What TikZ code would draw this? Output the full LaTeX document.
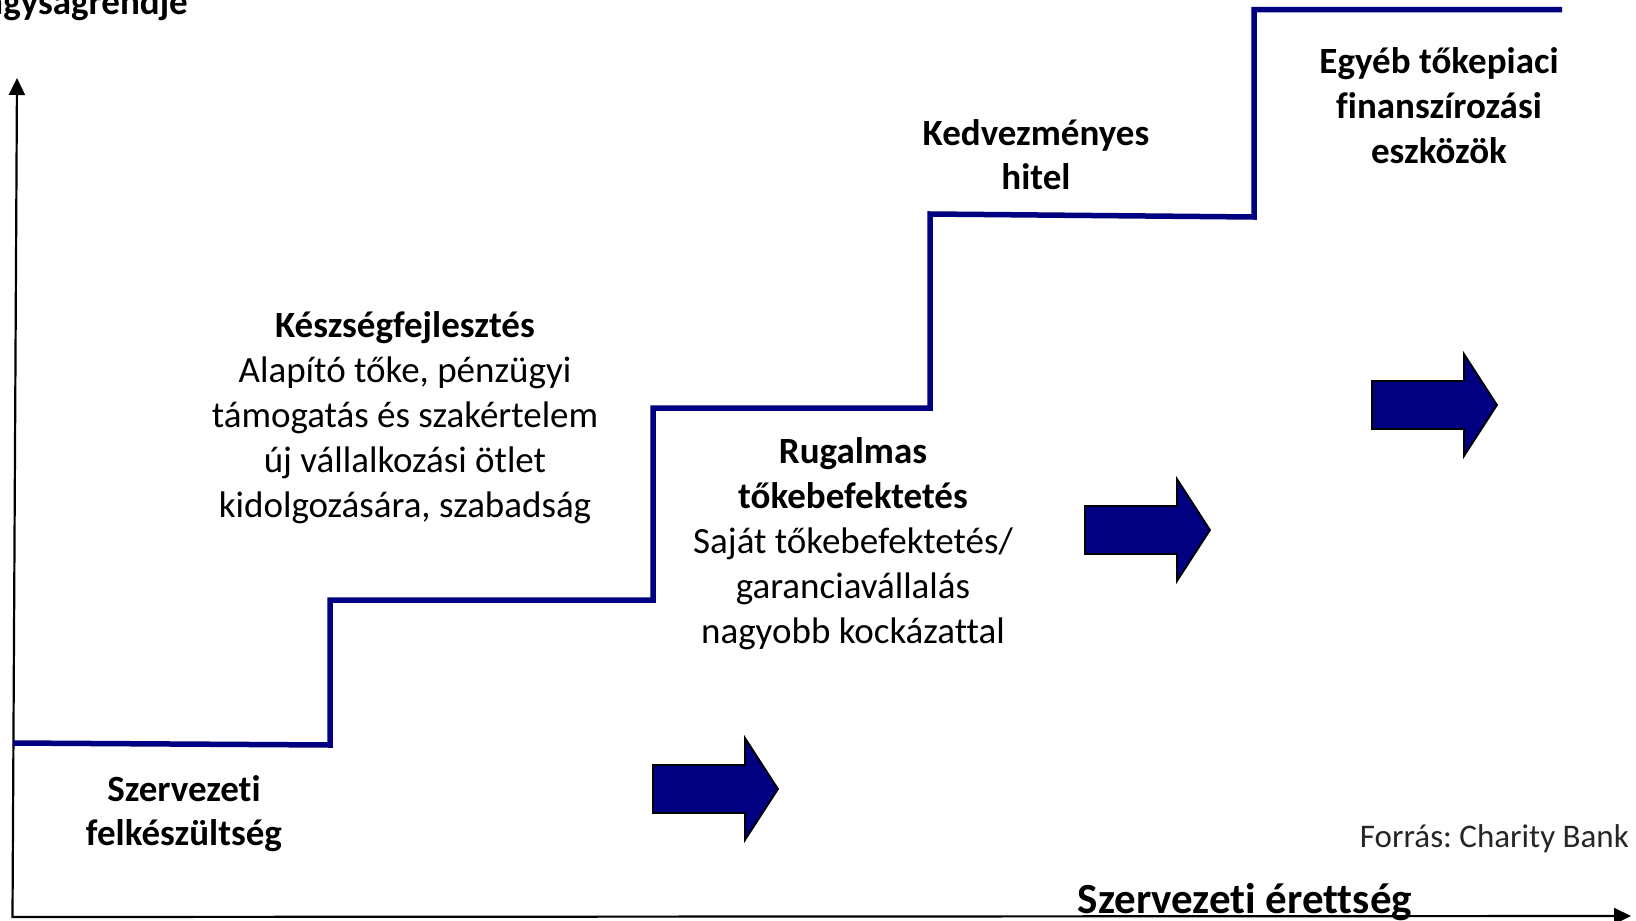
\documentclass[tikz,border=0pt]{standalone}
\usepackage{fontspec}
\setmainfont{Carlito}[Ligatures={NoCommon}]
\usetikzlibrary{arrows.meta}
\definecolor{stepnavy}{RGB}{0,0,128}
\frenchspacing
\tikzset{
  axisline/.style={draw=black, line width=2.2pt, {Triangle[width=16pt,length=17pt]}-{Triangle[width=16pt,length=17pt]}},
  stairline/.style={draw=stepnavy, line width=5.5pt, line join=miter, line cap=butt},
  txt/.style={inner sep=0pt, anchor=base, font=\fontsize{37}{45}\selectfont},
  btxt/.style={txt, font=\fontsize{37}{45}\selectfont\bfseries},
  bigarrow/.pic={
    \draw[fill=stepnavy, draw=black, line width=1.8pt, line join=miter]
      (0,-24) -- (92,-24) -- (92,-51) -- (125,0) -- (92,51) -- (92,24) -- (0,24) -- cycle;
  }
}
\begin{document}
\begin{tikzpicture}[x=1pt, y=-1pt]
\useasboundingbox (0,0) rectangle (1636,921);

% axes
\coordinate (ytop) at (17,78);
\coordinate (orig) at (12.5,917);
\coordinate (xend) at (1631,916);
\draw[axisline] (ytop) -- (orig) -- (xend);

% staircase
\draw[stairline] (13,743) -- (330,745) -- (330,600) -- (653,600) -- (653,408)
  -- (930,408) -- (930,214) -- (1254,217) -- (1254,9.5) -- (1562,9.5);

% block arrows
\pic at (653,789) {bigarrow};
\pic at (1085,530) {bigarrow};
\pic at (1372,405) {bigarrow};

% axis labels
\node[btxt, anchor=base east] (ylab) at (188,14) {nagyságrendje};
\node[btxt, font=\fontsize{43}{51}\selectfont\bfseries] (xlab) at (1245,913) {Szervezeti érettség};

% step 1
\node[btxt] (s1) at (184,801) {Szervezeti};
\node[btxt] (s2) at (184,845) {felkészültség};

% step 2
\node[btxt] (k1) at (405,337) {Készségfejlesztés};
\node[txt] (k2) at (405,382) {Alapító tőke, pénzügyi};
\node[txt] (k3) at (405,427) {támogatás és szakértelem};
\node[txt] (k4) at (405,472) {új vállalkozási ötlet};
\node[txt] (k5) at (405,517) {kidolgozására, szabadság};

% step 3
\node[btxt] (r1) at (853,463) {Rugalmas};
\node[btxt] (r2) at (853,508) {tőkebefektetés};
\node[txt] (r3) at (853,553) {Saját tőkebefektetés/};
\node[txt] (r4) at (853,598) {garanciavállalás};
\node[txt] (r5) at (853,643) {nagyobb kockázattal};

% step 4
\node[btxt] (h1) at (1036,145) {Kedvezményes};
\node[btxt] (h2) at (1036,189) {hitel};

% step 5
\node[btxt] (e1) at (1439,73) {Egyéb tőkepiaci};
\node[btxt] (e2) at (1439,118) {finanszírozási};
\node[btxt] (e3) at (1439,163) {eszközök};

% source
\node[txt, anchor=base east, font=\fontsize{33}{40}\selectfont, text=black!85] (src) at (1629,847) {Forrás: Charity Bank};
\end{tikzpicture}
\end{document}
